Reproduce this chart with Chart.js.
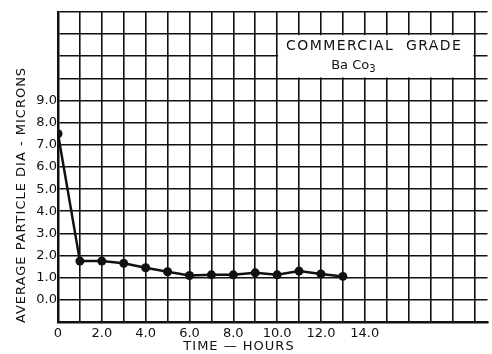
<!DOCTYPE html>
<html>
<head>
<meta charset="utf-8">
<script src="https://cdn.jsdelivr.net/npm/chart.js@4/dist/chart.umd.min.js"></script>
<style>
  body { margin: 0; background: #fff; }
  #wrap { width: 492px; height: 354px; }
</style>
</head>
<body>
<div id="wrap"><canvas id="chart"></canvas></div>
<script>
// time in hours, average particle diameter in microns
const hours = [0, 1, 2, 3, 4, 5, 6, 7, 8, 9, 10, 11, 12, 13];
const diameter = [7.5, 1.75, 1.75, 1.65, 1.45, 1.27, 1.1, 1.13, 1.13, 1.22, 1.13, 1.3, 1.17, 1.06];
const yLabelled = [0, 1, 2, 3, 4, 5, 6, 7, 8, 9];
const xLabelled = [0, 2, 4, 6, 8, 10, 12, 14];
const noteLines = ['COMMERCIAL  GRADE', 'Ba Co', '3'];
const yTitle = 'AVERAGE PARTICLE DIA - MICRONS';
const xTitle = 'TIME \u2014 HOURS';

const font = '"DejaVu Sans", sans-serif';
const ink = '#111';

const paperPlugin = {
  id: 'paper',
  beforeDatasetsDraw(chart) {
    const { ctx, scales: { x, y } } = chart;
    // white note box sitting in the grid (x 10..19, y 10..12)
    const l = x.getPixelForValue(10), r = x.getPixelForValue(19);
    const t = y.getPixelForValue(12), b = y.getPixelForValue(10);
    ctx.save();
    ctx.fillStyle = '#fff';
    ctx.fillRect(l + 1, t + 1, r - l - 2, b - t - 2);
    ctx.fillStyle = ink;
    ctx.textBaseline = 'middle';
    ctx.textAlign = 'center';
    ctx.font = '14px ' + font;
    ctx.letterSpacing = '1.4px';
    ctx.fillText(noteLines[0], l + 97, t + 12);
    ctx.textAlign = 'left';
    ctx.letterSpacing = '0px';
    ctx.font = '13px ' + font;
    const w = ctx.measureText(noteLines[1]).width;
    const sx = l + 54;
    ctx.fillText(noteLines[1], sx, t + 31);
    ctx.font = '10px ' + font;
    ctx.fillText(noteLines[2], sx + w, t + 35);
    ctx.restore();
  },
  afterDraw(chart) {
    const { ctx } = chart;
    ctx.save();
    ctx.fillStyle = ink;
    ctx.textBaseline = 'middle';
    ctx.textAlign = 'center';
    ctx.font = '13px ' + font;
    ctx.letterSpacing = '1px';
    ctx.fillText(xTitle, 239, 347);
    ctx.translate(22, 195);
    ctx.rotate(-Math.PI / 2);
    ctx.fillText(yTitle, 0, 0);
    ctx.restore();
  }
};

new Chart(document.getElementById('chart'), {
  type: 'line',
  data: {
    datasets: [{
      data: hours.map((h, i) => ({ x: h, y: diameter[i] })),
      borderColor: ink,
      backgroundColor: ink,
      borderWidth: 2.5,
      pointRadius: 4.5,
      pointBorderWidth: 0,
      tension: 0
    }]
  },
  options: {
    responsive: true,
    maintainAspectRatio: false,
    animation: false,
    layout: { padding: { top: 12, right: 2, left: 0, bottom: 0 } },
    plugins: { legend: { display: false }, tooltip: { enabled: false } },
    scales: {
      x: {
        type: 'linear',
        min: 0,
        max: 19.6,
        afterFit: s => { s.height = 32; },
        grid: { color: ink, lineWidth: 1.6, drawTicks: false },
        border: { color: ink, width: 2.5 },
        ticks: {
          stepSize: 1,
          includeBounds: false,
          autoSkip: false,
          maxRotation: 0,
          padding: 4,
          color: ink,
          font: { family: font, size: 13 },
          callback: v => xLabelled.includes(v) ? (v === 0 ? '0' : v.toFixed(1)) : ''
        }
      },
      y: {
        min: -1,
        max: 13,
        afterFit: s => { s.width = 58; },
        grid: { color: ink, lineWidth: 1.6, drawTicks: false },
        border: { color: ink, width: 2.5 },
        ticks: {
          stepSize: 1,
          autoSkip: false,
          padding: 1,
          color: ink,
          font: { family: font, size: 13 },
          callback: v => yLabelled.includes(v) ? v.toFixed(1) : ''
        }
      }
    }
  },
  plugins: [paperPlugin]
});
</script>
</body>
</html>
